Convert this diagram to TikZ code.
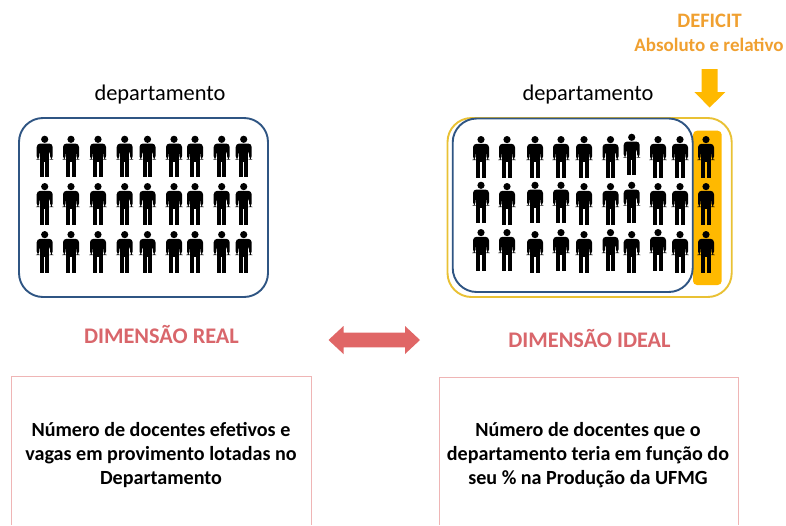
\documentclass[tikz,border=0pt]{standalone}
\usepackage{fontspec}
\setmainfont{Carlito}
\definecolor{navyline}{HTML}{2F5583}
\definecolor{goldline}{HTML}{E9C134}
\definecolor{goldfill}{HTML}{FFB900}
\definecolor{orangetext}{HTML}{F0A030}
\definecolor{redtext}{HTML}{D9666B}
\definecolor{redarrow}{HTML}{E06666}
\definecolor{pinkline}{HTML}{EFB5B5}
\newcommand{\personfig}[2]{%
  \begin{scope}[shift={(#1,#2)}]
    \fill[black] (0,3.6) circle (3.6);
    % shoulders and arms
    \fill[black,rounded corners=3.5pt] (-8,24) -- (-8,7.8) -- (8,7.8) -- (8,24) -- (5.4,24) -- (5.4,15) -- (-5.4,15) -- (-5.4,24) -- cycle;
    % torso
    \fill[black] (-4.6,10) rectangle (4.6,26);
    % legs
    \fill[black] (-4.6,25) -- (-0.6,25) -- (-0.6,41.7) -- (-4.6,41.7) -- cycle;
    \fill[black] (0.6,25) -- (4.6,25) -- (4.6,41.7) -- (0.6,41.7) -- cycle;
  \end{scope}}
\tikzset{
  x=1pt,y=-1pt,
  roundframe/.style={line width=1.9pt,rounded corners=24pt},
  headlabel/.style={font=\fontsize{22.4}{26}\selectfont,text=black,inner sep=0pt,anchor=center},
  dimlabel/.style={font=\fontsize{22.3}{26}\selectfont\bfseries,text=redtext,inner sep=0pt,anchor=center},
  defi/.style={font=\fontsize{19}{22}\selectfont\bfseries,text=orangetext,inner sep=0pt,anchor=center},
  bodylabel/.style={font=\fontsize{20.1}{24.2}\selectfont\bfseries,text=black,inner sep=0pt,align=center,anchor=center},
  openbox/.style={draw=pinkline,line width=0.8pt},
}
\begin{document}
\begin{tikzpicture}
\useasboundingbox (0,0) rectangle (786,525);
\fill[white] (0,0) rectangle (786,525);
% left frame
\draw[navyline,roundframe] (19,118) rectangle (268,297);
\foreach \px in {44.7,71,98,124.7,147.5,174,195,221.7,243.7}
  \foreach \py in {135.7,183,231}
    \personfig{\px}{\py};
% right frames
\draw[goldline,roundframe] (447.5,118) rectangle (731.7,297);
\fill[goldfill,rounded corners=4pt] (693,130.7) rectangle (721.7,285);
\draw[navyline,roundframe] (452.7,118.5) rectangle (692.7,292);
\foreach \px/\pa/\pb/\pc in {481/136/181.7/229,507/136/183/229,535/136/181.7/231,561/136/181.7/229,584/136/183/231,610.5/136/183/229,631.7/133.7/181.7/231,658/136/183/229,680/136/183/231,706/136/183/231}{
  \personfig{\px}{\pa}
  \personfig{\px}{\pb}
  \personfig{\px}{\pc}
}
% deficit arrow
\fill[goldfill] (701.7,69) -- (717.7,69) -- (717.7,92) -- (725.3,92) -- (709.7,107.5) -- (694.3,92) -- (701.7,92) -- cycle;
% double arrow
\fill[redarrow] (328.5,340) -- (343.5,326) -- (343.5,332.7) -- (405,332.7) -- (405,326) -- (420,340) -- (405,354) -- (405,347.3) -- (343.5,347.3) -- (343.5,354) -- cycle;
% lower boxes
\draw[openbox] (11.5,525) -- (11.5,376) -- (311,376) -- (311,525);
\draw[openbox] (439,525) -- (439,377) -- (738,377) -- (738,525);
% texts
\node[headlabel] (depA) at (160,95) {departamento};
\node[headlabel] (depB) at (588,95) {departamento};
\node[defi,font=\fontsize{20.5}{24}\selectfont\bfseries] (defA) at (709.5,21) {DEFICIT};
\node[defi] (defB) at (709,45) {Absoluto e relativo};
\node[dimlabel] (dimA) at (161.5,334) {DIMENSÃO REAL};
\node[dimlabel] (dimB) at (589.5,338) {DIMENSÃO IDEAL};
\node[bodylabel] (txtA) at (161,455) {Número de docentes efetivos e\\vagas em provimento lotadas no\\Departamento};
\node[bodylabel] (txtB) at (588,455) {Número de docentes que o\\departamento teria em função do\\seu \% na Produção da UFMG};
\end{tikzpicture}
\end{document}
